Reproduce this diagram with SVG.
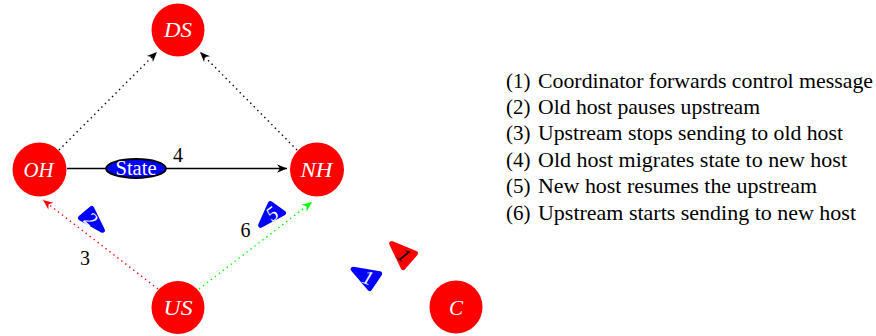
<svg xmlns="http://www.w3.org/2000/svg" width="876" height="336" viewBox="0 0 876 336">
<style>
.node{fill:#ff0000}
.serif{font-family:"Liberation Serif","Times New Roman",Tinos,"DejaVu Serif","Noto Serif",serif}
.nlabel{font-style:italic;font-size:21px;fill:#ffffff;text-anchor:middle}
.elabel{font-size:20px;fill:#000;text-anchor:middle}
.legend{font-size:21px;fill:#000}
.dot{fill:none;stroke-width:1.4;stroke-dasharray:1.4 3.6}
.tri{stroke-width:5;stroke-linejoin:round}
.tlabel{font-style:italic;font-size:20px;text-anchor:middle;dominant-baseline:central}
</style>
<defs>
<marker id="ahk" viewBox="-11 -5 12 10" refX="0" refY="0" markerWidth="12" markerHeight="10" markerUnits="userSpaceOnUse" orient="auto"><path d="M0,0 L-10,-4.2 L-7,0 L-10,4.2 Z" fill="#000"/></marker>
<marker id="ahr" viewBox="-11 -5 12 10" refX="0" refY="0" markerWidth="12" markerHeight="10" markerUnits="userSpaceOnUse" orient="auto"><path d="M0,0 L-10,-4.2 L-7,0 L-10,4.2 Z" fill="#ff0000"/></marker>
<marker id="ahg" viewBox="-11 -5 12 10" refX="0" refY="0" markerWidth="12" markerHeight="10" markerUnits="userSpaceOnUse" orient="auto"><path d="M0,0 L-10,-4.2 L-7,0 L-10,4.2 Z" fill="#00ff00"/></marker>
</defs>
<rect width="876" height="336" fill="#ffffff"/>

<g id="connectors" class="serif">
<line class="dot" x1="59" y1="150" x2="157" y2="52" stroke="#000" marker-end="url(#ahk)"/>
<line class="dot" x1="297" y1="150" x2="200" y2="52" stroke="#000" marker-end="url(#ahk)"/>
<line x1="67" y1="168.5" x2="287" y2="168.5" stroke="#000" stroke-width="1.5" marker-end="url(#ahk)"/>
<line class="dot" x1="158" y1="289" x2="43" y2="200" stroke="#ff0000" marker-end="url(#ahr)"/>
<line class="dot" x1="199" y1="289" x2="312" y2="202" stroke="#00ff00" marker-end="url(#ahg)"/>
<text class="elabel" x="178" y="162">4</text>
<text class="elabel" x="85" y="265">3</text>
<text class="elabel" x="245.5" y="236.5">6</text>
</g>

<g id="state" class="serif">
<ellipse cx="136" cy="168.5" rx="30" ry="9.5" fill="#0000ff" stroke="#000" stroke-width="1.8"/>
<text x="136" y="175" font-size="20" fill="#ffffff" text-anchor="middle" textLength="41" lengthAdjust="spacingAndGlyphs">State</text>
</g>

<g id="DS" class="serif"><circle class="node" cx="178" cy="30" r="26.5"/><text class="nlabel" x="178" y="37" textLength="28" lengthAdjust="spacingAndGlyphs">DS</text></g>
<g id="OH" class="serif"><circle class="node" cx="39.5" cy="169.5" r="27"/><text class="nlabel" x="38.5" y="176.5" textLength="30" lengthAdjust="spacingAndGlyphs">OH</text></g>
<g id="NH" class="serif"><circle class="node" cx="317" cy="169.5" r="27"/><text class="nlabel" x="316.5" y="176.5" textLength="32" lengthAdjust="spacingAndGlyphs">NH</text></g>
<g id="US" class="serif"><circle class="node" cx="178" cy="307.5" r="26.5"/><text class="nlabel" x="178" y="315" textLength="29" lengthAdjust="spacingAndGlyphs">US</text></g>
<g id="C" class="serif"><circle class="node" cx="456" cy="307" r="26.5"/><text class="nlabel" x="456" y="315">C</text></g>

<g id="step2" class="serif"><polygon class="tri" points="80.5,218 91.8,208.5 102.4,230.3" fill="#0000ff" stroke="#0000ff"/><text class="tlabel" x="91" y="219" fill="#ffffff" transform="rotate(38 91 219)">2</text></g>
<g id="step5" class="serif"><polygon class="tri" points="260.6,225.3 270.3,203.5 283.5,213.1" fill="#0000ff" stroke="#0000ff"/><text class="tlabel" x="272" y="213.5" fill="#ffffff" transform="rotate(-38 272 213.5)">5</text></g>
<g id="step1a" class="serif"><polygon class="tri" points="391.7,243.6 415.5,253.3 403.1,267.5" fill="#ff0000" stroke="#ff0000"/><text class="tlabel" x="404" y="255" fill="#000000" transform="rotate(40 404 255)">1</text></g>
<g id="step1b" class="serif"><polygon class="tri" points="353.1,269.2 379.6,273.8 369.6,288.5" fill="#0000ff" stroke="#0000ff"/><text class="tlabel" x="368" y="277.5" fill="#ffffff" transform="rotate(20 368 277.5)">1</text></g>

<g id="legend" class="serif">
<text class="legend" x="506" y="87.5">(1)</text><text class="legend" x="538" y="87.5" textLength="335" lengthAdjust="spacingAndGlyphs">Coordinator forwards control message</text>
<text class="legend" x="506" y="113.9">(2)</text><text class="legend" x="538" y="113.9" textLength="222" lengthAdjust="spacingAndGlyphs">Old host pauses upstream</text>
<text class="legend" x="506" y="140.3">(3)</text><text class="legend" x="538" y="140.3" textLength="305" lengthAdjust="spacingAndGlyphs">Upstream stops sending to old host</text>
<text class="legend" x="506" y="166.7">(4)</text><text class="legend" x="538" y="166.7" textLength="309" lengthAdjust="spacingAndGlyphs">Old host migrates state to new host</text>
<text class="legend" x="506" y="193.1">(5)</text><text class="legend" x="538" y="193.1" textLength="279" lengthAdjust="spacingAndGlyphs">New host resumes the upstream</text>
<text class="legend" x="506" y="219.5">(6)</text><text class="legend" x="538" y="219.5" textLength="318" lengthAdjust="spacingAndGlyphs">Upstream starts sending to new host</text>
</g>
</svg>
